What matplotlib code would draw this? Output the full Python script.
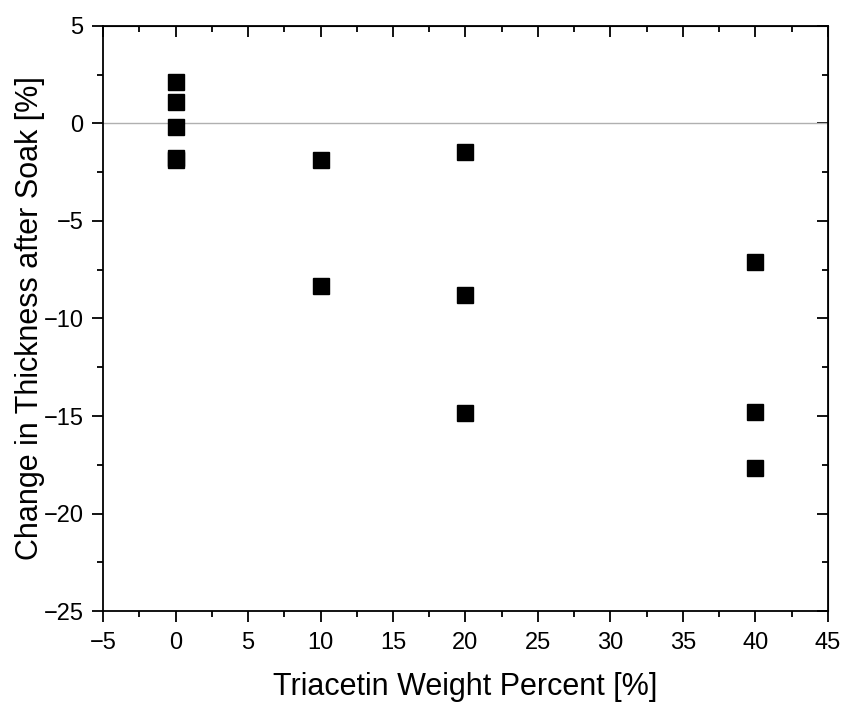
import matplotlib.pyplot as plt
from matplotlib.ticker import MultipleLocator

plt.rcParams['font.family'] = ['Liberation Sans', 'DejaVu Sans']

# triacetin weight percent and thickness change after soak
wt_percent = [0, 0, 0, 0, 0, 10, 10, 20, 20, 20, 40, 40, 40]
thickness_change = [2.14, 1.12, -0.19, -1.75, -1.85, -1.87, -8.33,
                    -1.46, -8.79, -14.85, -7.1, -14.79, -17.67]

fig = plt.figure(figsize=(8.41, 7.02), dpi=100)
ax = fig.add_axes([0.1225, 0.1296, 0.862, 0.8334])

ax.axhline(0, color='#b0b0b0', linewidth=1.0, zorder=1)
ax.plot(wt_percent, thickness_change, 's', color='black', markersize=12,
        markeredgecolor='black', zorder=3)

ax.set_xlim(-5, 45)
ax.set_ylim(-25, 5)
ax.xaxis.set_major_locator(MultipleLocator(5))
ax.xaxis.set_minor_locator(MultipleLocator(2.5))
ax.yaxis.set_major_locator(MultipleLocator(5))
ax.yaxis.set_minor_locator(MultipleLocator(2.5))

for s in ax.spines.values():
    s.set_linewidth(1.3)

ax.tick_params(which='both', width=1.3, labelsize=17, pad=6)
ax.tick_params(axis='x', which='both', pad=7)
ax.tick_params(which='major', length=8, direction='out')
ax.tick_params(which='minor', length=4, direction='out')

# inward ticks on the top and right sides
top = ax.secondary_xaxis('top')
top.xaxis.set_major_locator(MultipleLocator(5))
top.xaxis.set_minor_locator(MultipleLocator(2.5))
top.tick_params(which='both', direction='in', width=1.3, labeltop=False)
top.tick_params(which='major', length=8)
top.tick_params(which='minor', length=4)
right = ax.secondary_yaxis('right')
right.yaxis.set_major_locator(MultipleLocator(5))
right.yaxis.set_minor_locator(MultipleLocator(2.5))
right.tick_params(which='both', direction='in', width=1.3, labelright=False)
right.tick_params(which='major', length=8)
right.tick_params(which='minor', length=4)

ax.set_xlabel('Triacetin Weight Percent [%]', fontsize=22, labelpad=13)
ax.set_ylabel('Change in Thickness after Soak [%]', fontsize=22, labelpad=-1)

fig.savefig('out.png', dpi=100)
